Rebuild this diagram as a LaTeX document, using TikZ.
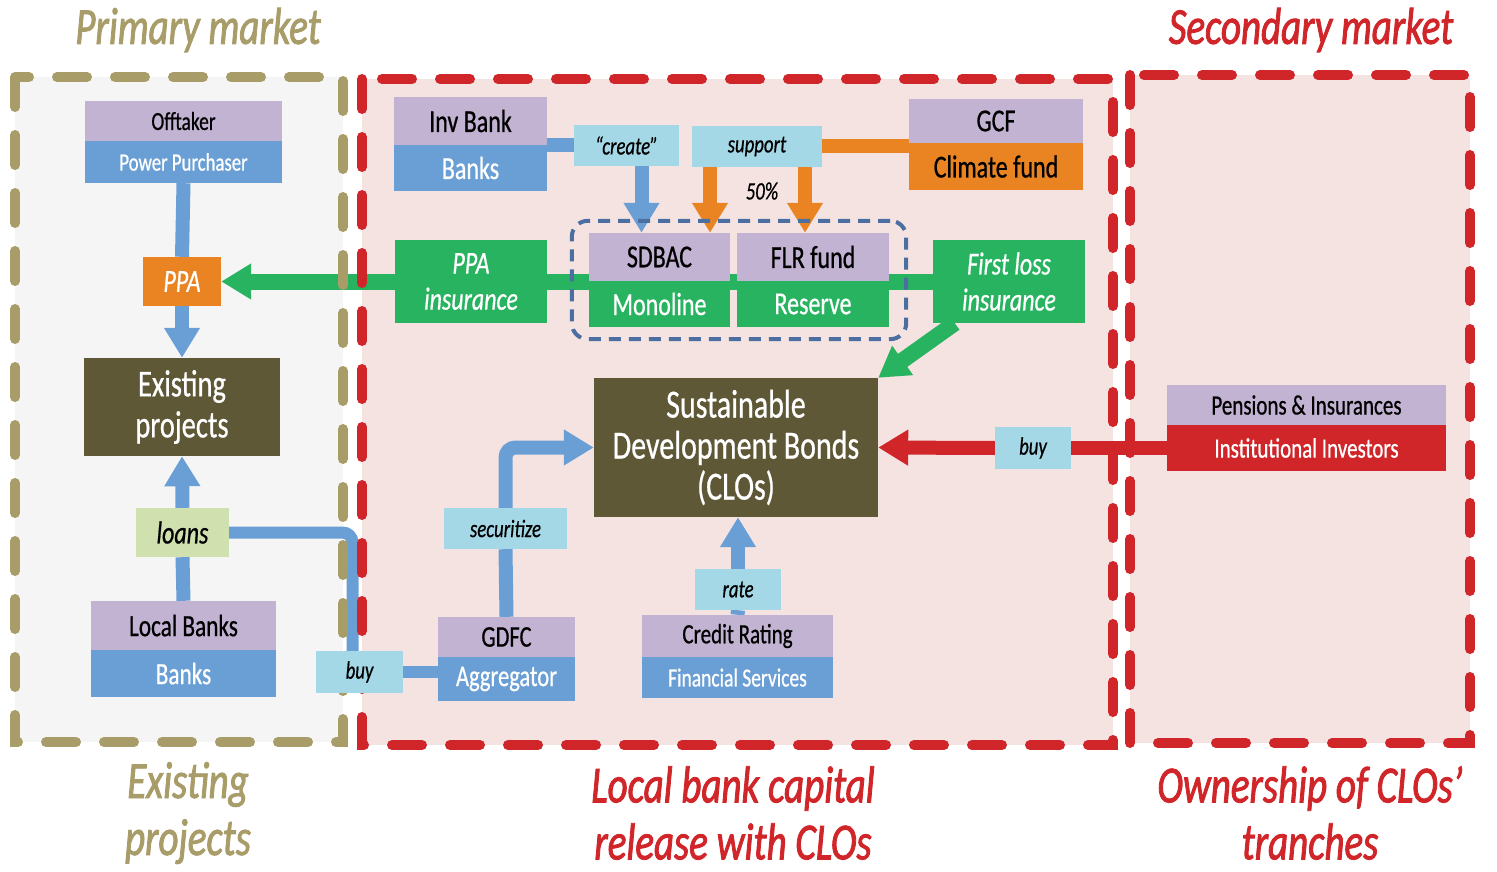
\documentclass[tikz,border=0pt]{standalone}
\usepackage{fontspec}
\setmainfont{Carlito}[FakeStretch=0.75, FakeBold=0.6]
\newfontfamily\headfont{Carlito}[FakeStretch=0.75, FakeBold=1.6]
\usetikzlibrary{arrows.meta,fit}
\definecolor{purp}{HTML}{C3B3D3}
\definecolor{blu}{HTML}{6A9FD5}
\definecolor{grn}{HTML}{27B35F}
\definecolor{org}{HTML}{EA8423}
\definecolor{rd}{HTML}{D0262A}
\definecolor{olive}{HTML}{5E5837}
\definecolor{lblu}{HTML}{A5D8E6}
\definecolor{lgrn}{HTML}{D0E0AE}
\definecolor{khaki}{HTML}{A89C68}
\definecolor{pinkbg}{HTML}{F5E3E2}
\definecolor{graybg}{HTML}{F5F5F5}
\definecolor{grpblu}{HTML}{4A6FA0}
\newcommand{\setsz}[2]{\fontsize{#1}{#2}\selectfont}
\pgfdeclarelayer{bg}
\pgfsetlayers{bg,main}
\begin{document}
\begin{tikzpicture}[x=1pt, y=-1pt,
		box/.style={inner sep=0pt, align=center},
		head/.style={box, fill=purp, text=black},
		tag/.style={box, fill=lblu, text=black, font=\setsz{25}{28}\itshape},
		flow/.style={line width=14pt},
		arr/.style={-{Triangle[width=34pt,length=30pt]}},
		region/.style={line width=10pt, line cap=round, dash pattern=on 30pt off 28pt},
		title/.style={inner sep=0pt, align=center, font=\headfont\setsz{52}{57}\itshape}]
	\useasboundingbox (0,0) rectangle (1497,872);

	% market regions
	\begin{pgfonlayer}{bg}
		\fill[graybg] (15,77) rectangle (343,742);
		\fill[pinkbg] (362,79) rectangle (1113,745);
		\fill[pinkbg] (1130,75) rectangle (1470,743);
	\end{pgfonlayer}
	\draw[region, color=khaki] (15,77) rectangle (343,742);
	\draw[region, color=rd] (362,79) rectangle (1113,745);
	\draw[region, color=rd] (1130,75) rectangle (1470,743);

	\node[title, text=khaki] (primary) at (198,30) {Primary market};
	\node[title, text=rd] (secondary) at (1311,30) {Secondary market};
	\node[title, text=khaki] (lblexist) at (188,813) {Existing\\projects};
	\node[title, text=rd] (lblrelease) at (733,813) {Local bank capital\\release with CLOs};
	\node[title, text=rd] (lblowner) at (1310,813) {Ownership of CLOs’\\tranches};

	% actors
	\node[head, minimum width=197, minimum height=40, font=\setsz{26}{28}] (offtaker) at (183.5,121) {Offtaker};
	\node[box, fill=blu, text=white, minimum width=197, minimum height=42, font=\setsz{25}{28}] (purchaser) at (183.5,162) {Power Purchaser};

	\node[head, minimum width=153, minimum height=48, font=\setsz{32}{36}] (invbank) at (470.5,121) {Inv Bank};
	\node[box, fill=blu, text=white, minimum width=153, minimum height=46, font=\setsz{32}{36}] (invbanks) at (470.5,168) {Banks};

	\node[head, minimum width=174, minimum height=44, font=\setsz{32}{36}] (gcf) at (996,121) {GCF};
	\node[box, fill=org, text=black, minimum width=174, minimum height=47, font=\setsz{32}{36}] (climate) at (996,166.5) {Climate fund};

	\node[head, minimum width=141, minimum height=48, font=\setsz{32}{36}] (sdbac) at (659.5,257) {SDBAC};
	\node[box, fill=grn, text=white, minimum width=141, minimum height=46, font=\setsz{32}{36}] (monoline) at (659.5,304) {Monoline};
	\node[head, minimum width=152, minimum height=48, font=\setsz{32}{36}] (flr) at (813,257) {FLR fund};
	\node[box, fill=grn, text=white, minimum width=152, minimum height=46, font=\setsz{32}{36}] (reserve) at (813,304) {Reserve};

	\node[box, fill=grn, text=white, minimum width=152, minimum height=83, font=\setsz{32}{36}\itshape] (ppains) at (471,281.5) {PPA\\insurance};
	\node[box, fill=grn, text=white, minimum width=152, minimum height=83, font=\setsz{32}{36}\itshape] (firstloss) at (1009,281.5) {First loss\\insurance};
	\node[box, fill=org, text=white, minimum width=78, minimum height=49, font=\setsz{32}{36}\itshape] (ppa) at (182,281.5) {PPA};

	\node[box, fill=olive, text=white, minimum width=196, minimum height=98, font=\setsz{38}{41}] (existing) at (182,407) {Existing\\projects};
	\node[box, fill=olive, text=white, minimum width=284, minimum height=139, font=\setsz{40}{41}] (bonds) at (736,447.5) {Sustainable\\Development Bonds\\(CLOs)};

	\node[box, fill=lgrn, text=black, minimum width=93, minimum height=49, font=\setsz{32}{36}\itshape] (loans) at (182.5,532.5) {loans};
	\node[head, minimum width=185, minimum height=49, font=\setsz{31}{34}] (localbanks) at (183.5,625.5) {Local Banks};
	\node[box, fill=blu, text=white, minimum width=185, minimum height=47, font=\setsz{31}{34}] (banks) at (183.5,673.5) {Banks};

	\node[tag, minimum width=87, minimum height=42] (buyleft) at (359.5,672) {buy};
	\node[head, minimum width=137, minimum height=40, font=\setsz{30}{33}] (gdfc) at (506.5,637) {GDFC};
	\node[box, fill=blu, text=white, minimum width=137, minimum height=44, font=\setsz{30}{33}] (aggregator) at (506.5,679) {Aggregator};
	\node[tag, minimum width=123, minimum height=41] (securitize) at (505.5,528.5) {securitize};

	\node[tag, minimum width=86, minimum height=41] (rate) at (738,589.5) {rate};
	\node[head, minimum width=191, minimum height=42, font=\setsz{28}{31}] (rating) at (737.5,636) {Credit Rating};
	\node[box, fill=blu, text=white, minimum width=191, minimum height=41, font=\setsz{26}{29}] (finserv) at (737.5,677.5) {Financial Services};

	\node[tag, minimum width=76, minimum height=42] (buyright) at (1033,448) {buy};
	\node[head, minimum width=279, minimum height=40, font=\setsz{28}{31}] (pensions) at (1306.5,405) {Pensions \& Insurances};
	\node[box, fill=rd, text=white, minimum width=279, minimum height=46, font=\setsz{28}{31}] (investors) at (1306.5,448) {Institutional Investors};

	\node[tag, minimum width=105, minimum height=41] (create) at (626.5,145.5) {“create”};
	\node[tag, minimum width=130, minimum height=41] (support) at (757,146.5) {support};
	\node[font=\setsz{25}{28}\itshape] (share) at (762,191) {50\%};

	\node[draw=grpblu, line width=4pt, dash pattern=on 12pt off 8pt, rounded corners=16pt,
		inner xsep=17pt, inner ysep=12pt, fit=(sdbac)(reserve)] (group) {};

	% flows
	\begin{pgfonlayer}{bg}
		\draw[flow, color=blu] (purchaser.south) -- (ppa.north);
		\draw[flow, arr, color=blu] (ppa.south) -- (existing.north);
		\draw[flow, line width=16pt, color=grn] (ppains.east) -- (firstloss.west);
		\draw[flow, line width=16pt, arr, color=grn] (ppains.west) -- (ppa.east);
		\draw[flow, line width=16pt, arr, color=grn] ([xshift=22pt]firstloss.south west) -- (bonds.north east);
		\draw[flow, color=blu] (create.west) -- (create.west -| invbanks.east);
		\draw[flow, arr, color=blu] ([xshift=15pt]create.south) -- ([xshift=15pt]create.south |- sdbac.north);
		\draw[flow, color=org] (support.east) -- (support.east -| climate.west);
		\draw[flow, arr, color=org] ([xshift=-47pt]support.south) -- ([xshift=-47pt]support.south |- sdbac.north);
		\draw[flow, arr, color=org] ([xshift=48pt]support.south) -- ([xshift=48pt]support.south |- flr.north);
		\draw[flow, color=blu] (localbanks.north) -- (loans.south);
		\draw[flow, arr, color=blu] (loans.north) -- (existing.south);
		\draw[flow, line width=12pt, color=blu, rounded corners=10pt] (loans.east) -| ([xshift=-7pt]buyleft.north);
		\draw[flow, line width=12pt, color=blu] (buyleft.east) -- (buyleft.east -| aggregator.west);
		\draw[flow, color=blu] (gdfc.north) -- (securitize.south);
		\draw[flow, arr, color=blu, rounded corners=10pt] (securitize.north) |- (bonds.west);
		\draw[flow, color=blu] (rating.north) -- (rate.south);
		\draw[flow, arr, color=blu] (rate.north) -- (rate.north |- bonds.south);
		\draw[flow, color=rd] (investors.west) -- (buyright.east);
		\draw[flow, arr, color=rd] (buyright.west) -- (bonds.east);
	\end{pgfonlayer}
\end{tikzpicture}
\end{document}
